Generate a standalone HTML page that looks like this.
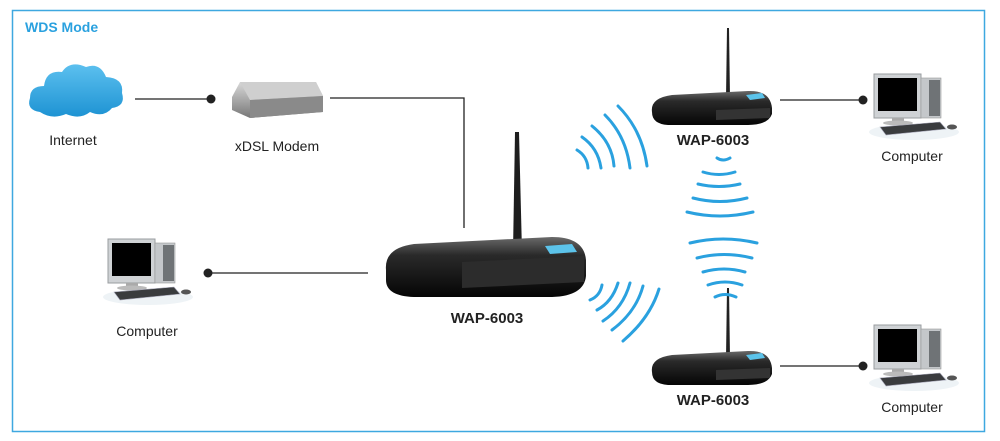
<!DOCTYPE html>
<html><head><meta charset="utf-8"><style>
html,body{margin:0;padding:0;background:#fff;}
svg{display:block;}
text{font-family:"Liberation Sans",sans-serif;}
</style></head><body>
<svg width="1000" height="441" viewBox="0 0 1000 441" xmlns="http://www.w3.org/2000/svg">
<defs>
<linearGradient id="cl" x1="0" y1="0" x2="0" y2="1"><stop offset="0" stop-color="#5cc0ef"/><stop offset="1" stop-color="#1e93d3"/></linearGradient>
<linearGradient id="md" x1="0" y1="0" x2="0" y2="1"><stop offset="0" stop-color="#d8d8d8"/><stop offset="1" stop-color="#777"/></linearGradient>
<linearGradient id="rt" x1="0" y1="0" x2="0" y2="1"><stop offset="0" stop-color="#6a6a6a"/><stop offset="0.3" stop-color="#2a2a2a"/><stop offset="1" stop-color="#050505"/></linearGradient>
<g id="pc">
  <ellipse cx="40" cy="58" rx="45" ry="8" fill="#eef3f6"/>
  <rect x="0" y="0" width="47" height="44" fill="#cfd2d5" stroke="#9a9da0" stroke-width="1"/>
  <rect x="4" y="4" width="39" height="33" fill="#000"/>
  <rect x="18" y="44" width="12" height="4" fill="#aaa"/>
  <ellipse cx="24" cy="49" rx="15" ry="2.5" fill="#bbb"/>
  <rect x="47" y="4" width="20" height="40" fill="#c4c7ca" stroke="#999" stroke-width="0.6"/>
  <rect x="55" y="6" width="11" height="36" fill="#6f7376"/>
  <polygon points="6,53 66,48 72,55 12,61" fill="#3a3c3e" stroke="#aab" stroke-width="0.6"/>
  <ellipse cx="78" cy="53" rx="5" ry="2.5" fill="#555"/>
</g>
<g id="rs">
  <path d="M76,8 L77,-62 L79,-62 L80,8Z" fill="#222"/>
  <path d="M2,22 Q0,8 22,5 L98,1 Q120,0 122,18 L122,24 Q118,35 98,35 L18,35 Q2,34 2,22Z" fill="url(#rt)"/>
  <path d="M66,20 L120,18 L120,28 L66,30Z" fill="#333"/>
  <path d="M96,5 L112,3 L115,8 L100,10Z" fill="#5cc3ea"/>
</g>
</defs>
<rect x="12.5" y="10.5" width="972" height="421" fill="none" stroke="#3ea8e0" stroke-width="1.5"/>
<text x="25" y="32" font-size="14" font-weight="bold" fill="#2aa1df">WDS Mode</text>

<path d="M40,112 Q26,110 30,98 Q30,86 44,86 Q46,70 62,72 Q70,60 86,67 Q100,62 106,77 Q124,78 122,93 Q126,106 112,108 Q104,118 90,112 Q80,120 66,114 Q52,120 40,112Z" fill="url(#cl)"/>
<text x="73" y="145" font-size="14" text-anchor="middle" fill="#222">Internet</text>
<line x1="135" y1="99" x2="210" y2="99" stroke="#222" stroke-width="1.3"/>
<circle cx="211" cy="99" r="4.5" fill="#222"/>

<path d="M232,97 L240,82 L316,82 L323,96 L323,112 L250,118 L232,110Z" fill="url(#md)"/>
<path d="M240,82 L316,82 L323,96 L250,100Z" fill="#cfcfcf"/>
<path d="M250,100 L323,96 L323,112 L250,118Z" fill="#8a8a8a"/>
<text x="277" y="151" font-size="14" text-anchor="middle" fill="#222">xDSL Modem</text>
<polyline points="330,98 464,98 464,228" fill="none" stroke="#222" stroke-width="1.3"/>

<use href="#pc" x="108" y="239"/>
<text x="147" y="336" font-size="14" text-anchor="middle" fill="#222">Computer</text>
<line x1="208" y1="273" x2="368" y2="273" stroke="#222" stroke-width="1.3"/>
<circle cx="208" cy="273" r="4.5" fill="#222"/>

<path d="M513,252 L515,132 L519,132 L522,252Z" fill="#1e1e1e"/>
<path d="M386,270 Q384,248 414,244 L552,237 Q584,237 586,260 L586,276 Q584,296 552,297 L414,297 Q386,296 386,280Z" fill="url(#rt)"/>
<path d="M462,262 L584,256 L584,282 L462,288Z" fill="#2c2c2c"/>
<path d="M545,246 L572,244 L577,252 L550,254Z" fill="#5cc3ea"/>
<text x="487" y="323" font-size="15" font-weight="bold" text-anchor="middle" fill="#222">WAP-6003</text>

<use href="#rs" x="650" y="90"/>
<text x="713" y="145" font-size="15" font-weight="bold" text-anchor="middle" fill="#222">WAP-6003</text>
<line x1="780" y1="100" x2="862" y2="100" stroke="#222" stroke-width="1.3"/>
<circle cx="863" cy="100" r="4.5" fill="#222"/>
<use href="#pc" x="874" y="74"/>
<text x="912" y="161" font-size="14" text-anchor="middle" fill="#222">Computer</text>

<use href="#rs" x="650" y="350"/>
<text x="713" y="405" font-size="15" font-weight="bold" text-anchor="middle" fill="#222">WAP-6003</text>
<line x1="780" y1="366" x2="862" y2="366" stroke="#222" stroke-width="1.3"/>
<circle cx="863" cy="366" r="4.5" fill="#222"/>
<use href="#pc" x="874" y="325"/>
<text x="912" y="412" font-size="14" text-anchor="middle" fill="#222">Computer</text>

<g fill="none" stroke="#2aa1df" stroke-width="3" stroke-linecap="round">
  <path d="M577,150 Q587,156 588,168"/>
  <path d="M582,137 Q598,148 601,168"/>
  <path d="M592,126 Q612,142 614,166"/>
  <path d="M605,115 Q626,136 630,168"/>
  <path d="M618,106 Q642,130 647,166"/>
  <path d="M590,300 Q600,296 602,285"/>
  <path d="M597,310 Q612,302 618,283"/>
  <path d="M603,321 Q623,308 630,283"/>
  <path d="M612,330 Q636,312 643,286"/>
  <path d="M623,341 Q650,318 659,289"/>
  <path d="M717,158 Q723,162 730,158"/>
  <path d="M703,172 Q719,177 735,172"/>
  <path d="M698,184 Q719,189 740,184"/>
  <path d="M693,198 Q720,205 747,198"/>
  <path d="M687,212 Q720,220 753,212"/>
  <path d="M690,243 Q723,235 757,243"/>
  <path d="M697,258 Q724,251 752,258"/>
  <path d="M703,272 Q724,266 745,272"/>
  <path d="M708,285 Q725,279 742,285"/>
  <path d="M715,297 Q725,292 736,297"/>
</g>
</svg>
</body></html>
